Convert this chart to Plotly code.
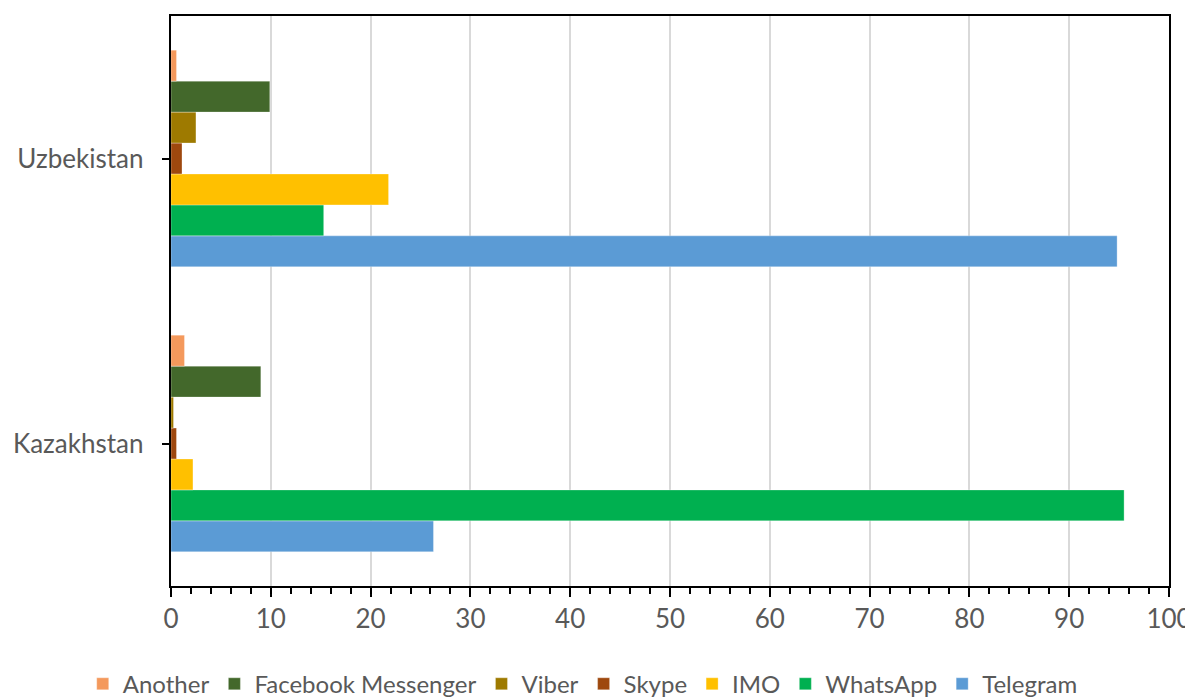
import plotly.graph_objects as go

countries = ["Kazakhstan", "Uzbekistan"]
apps = ["Another", "Facebook Messenger", "Viber", "Skype", "IMO", "WhatsApp", "Telegram"]
colors = ["#F4995C", "#43682B", "#9E7A00", "#9E480E", "#FFC000", "#00B050", "#5B9BD5"]
# values per app: [Kazakhstan, Uzbekistan]
another = [1.35, 0.55]
facebook = [9.0, 9.9]
viber = [0.25, 2.5]
skype = [0.55, 1.1]
imo = [2.2, 21.8]
whatsapp = [95.5, 15.3]
telegram = [26.3, 94.8]
values = [another, facebook, viber, skype, imo, whatsapp, telegram]

fig = go.Figure()
# add in reverse so that Telegram is the bottom bar of each group
for name, col, vals in reversed(list(zip(apps, colors, values))):
    fig.add_trace(go.Bar(
        y=countries, x=vals, name=name, orientation="h",
        marker=dict(color=col, line=dict(color="rgba(255,255,255,0.6)", width=0.5)),
    ))

fam = "Lato, Carlito, Calibri, sans-serif"
fnt = dict(family=fam, size=26, color="#595959")

# page body has an 8px margin, so the figure is 8px smaller and shifted
fig.update_layout(
    width=1185, height=690,
    barmode="group", bargap=0.24, bargroupgap=0,
    plot_bgcolor="white", paper_bgcolor="white",
    margin=dict(l=163, r=24, t=8, b=112, autoexpand=False),
    font=fnt,
    legend=dict(
        orientation="h", traceorder="reversed",
        xref="container", yref="container",
        x=0.485, xanchor="center", y=0.02, yanchor="middle",
        font=dict(family=fam, size=24, color="#595959"),
        itemwidth=30, tracegroupgap=0,
    ),
    xaxis=dict(
        range=[0, 100], dtick=10, tick0=0, automargin=False,
        showgrid=True, gridcolor="#D9D9D9", gridwidth=2,
        showline=True, linecolor="black", linewidth=2, mirror=True,
        ticks="outside", ticklen=9, tickwidth=2, tickcolor="black",
        minor=dict(dtick=2, ticks="outside", ticklen=6, tickwidth=1.5, tickcolor="black", showgrid=False),
        zeroline=False, tickfont=fnt,
    ),
    yaxis=dict(
        categoryorder="array", categoryarray=countries, automargin=False,
        showline=True, linecolor="black", linewidth=2, mirror=True,
        ticks="outside", ticklen=7, tickwidth=2, tickcolor="black",
        showgrid=False, tickfont=fnt, ticksuffix="  ",
    ),
)

fig.write_html("out.html")
